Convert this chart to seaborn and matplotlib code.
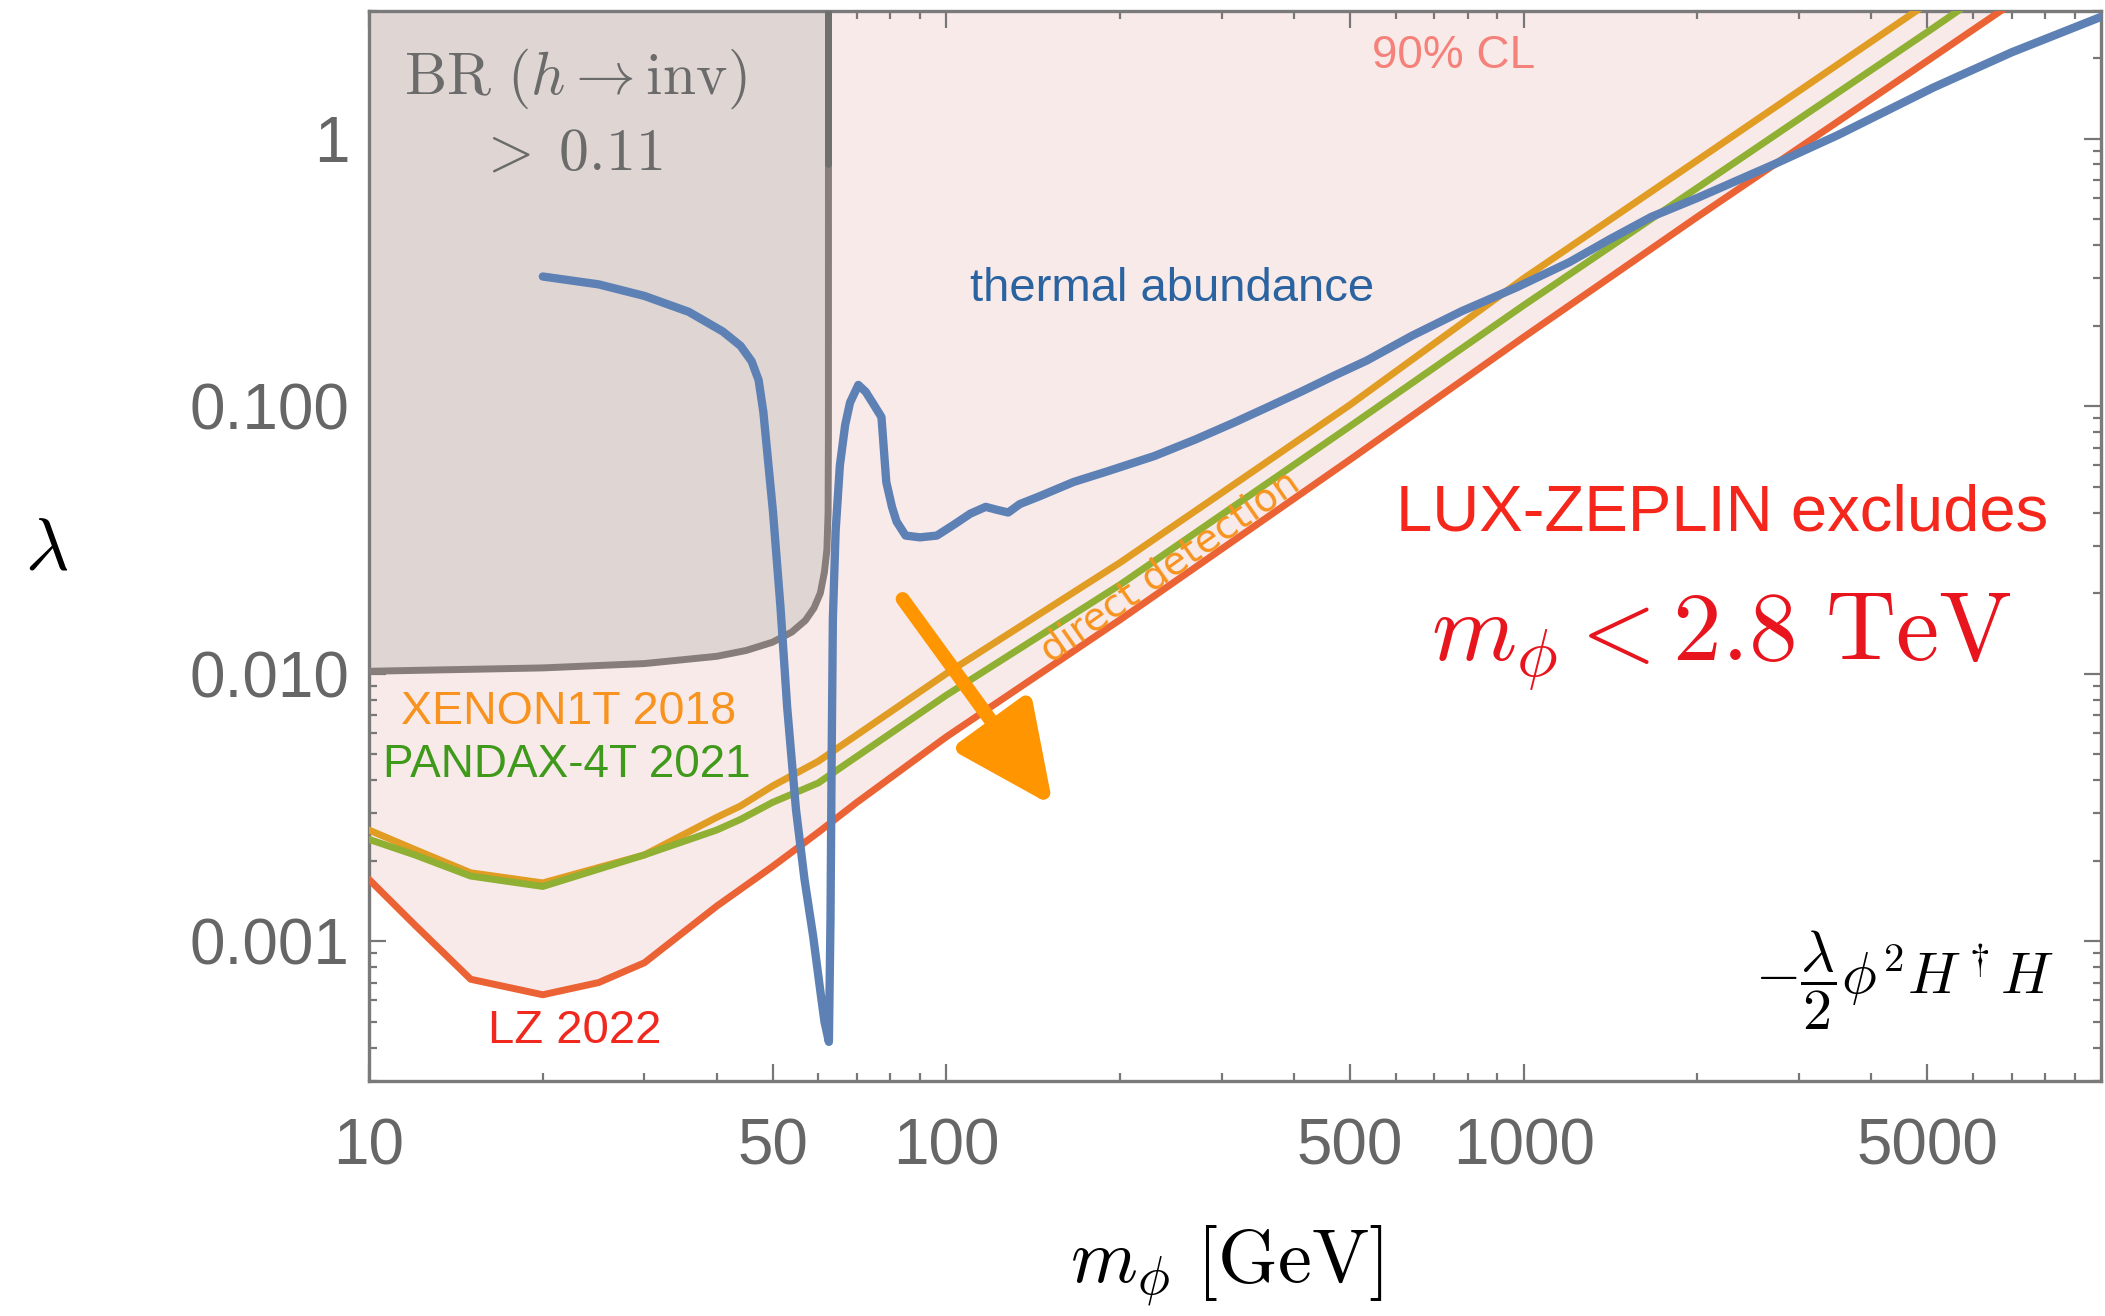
import numpy as np
import pandas as pd
import seaborn as sns
import matplotlib.pyplot as plt
from matplotlib.ticker import FixedLocator, FixedFormatter, LogLocator, NullFormatter

# Higgs portal scalar: coupling lambda vs mass

# LZ 2022 limit
m_lz = [10, 12, 15, 20, 25, 30, 40, 50, 60, 70, 100, 200, 500, 1000, 2000, 5000, 10000]
lam_lz = [0.0017, 0.00115, 0.00072, 0.00063, 0.00070, 0.00083, 0.00135, 0.0019,
          0.00255, 0.0033, 0.0058, 0.0159, 0.063, 0.181, 0.51, 1.95, 5.4]

# XENON1T 2018 limit
m_x1t = [10, 12, 15, 20, 30, 40, 44, 50, 60, 70, 100, 200, 500, 1000, 2000, 5000, 10000]
lam_x1t = [0.0026, 0.0022, 0.0018, 0.00165, 0.0021, 0.0029, 0.0032, 0.0038, 0.0047,
           0.0059, 0.0100, 0.026, 0.101, 0.30, 0.83, 3.2, 9.0]

# PANDAX-4T 2021 limit
m_p4t = [10, 12, 15, 20, 30, 40, 44, 50, 60, 70, 100, 200, 500, 1000, 2000, 5000, 10000]
lam_p4t = [0.0024, 0.0021, 0.00175, 0.0016, 0.0021, 0.0026, 0.00285, 0.0033, 0.0039,
           0.0049, 0.0083, 0.0215, 0.084, 0.238, 0.655, 2.5, 7.0]

# thermal abundance curve
m_th = [20, 25, 30, 35.8, 41, 44, 46, 47.3, 48.2, 49.2, 50.1, 51.6, 53, 54.9, 56.8,
        58.8, 60.5, 61.5, 62.6, 63.0, 63.3, 63.6, 64.3, 65.4, 66.8, 68.1, 70.4,
        72.5, 74.5, 77.2, 78.7, 80.5, 82, 85, 90, 96.3, 103, 110, 117, 122, 128,
        134, 145, 166, 190, 229, 270, 316, 360, 411, 470, 535, 640, 780, 973,
        1200, 1409, 1665, 2000, 2710, 3500, 5120, 7000, 10000]
lam_th = [0.305, 0.285, 0.258, 0.225, 0.19, 0.168, 0.147, 0.125, 0.095, 0.06, 0.04,
          0.0178, 0.0075, 0.0031, 0.0017, 0.00104, 0.00065, 0.0005, 0.00042,
          0.0012, 0.005, 0.016, 0.034, 0.06, 0.085, 0.103, 0.12, 0.113, 0.103,
          0.091, 0.052, 0.042, 0.037, 0.0328, 0.0323, 0.0328, 0.036, 0.0396,
          0.042, 0.041, 0.040, 0.043, 0.046, 0.052, 0.057, 0.065, 0.075, 0.087,
          0.099, 0.113, 0.13, 0.148, 0.183, 0.226, 0.278, 0.345, 0.42, 0.51,
          0.60, 0.80, 1.03, 1.55, 2.1, 2.85]

# BR(h -> inv) > 0.11 boundary
m_br = [10, 20, 30, 40, 45, 50, 54, 57, 59, 60.5, 61.5, 62.1, 62.4, 62.48, 62.5]
lam_br = [0.0102, 0.0105, 0.0109, 0.0116, 0.0122, 0.0131, 0.0143, 0.0158, 0.0176,
          0.020, 0.024, 0.029, 0.040, 0.08, 3.0]
m_edge = [62.5, 62.5]
lam_edge = [0.8, 3.0]

x_ticks = [10, 50, 100, 500, 1000, 5000]
x_ticklabels = ['10', '50', '100', '500', '1000', '5000']
y_ticks = [0.001, 0.01, 0.1, 1]
y_ticklabels = ['0.001', '0.010', '0.100', '1']

sns.set_theme(style="ticks")
plt.rcParams['font.family'] = ['Liberation Sans', 'DejaVu Sans']
plt.rcParams['mathtext.fontset'] = 'cm'

fig = plt.figure(figsize=(21.05, 13.16), dpi=100)
ax = fig.add_axes([0.1753, 0.1786, 0.8228, 0.8131])
ax.set_xscale('log')
ax.set_yscale('log')

blue = '#5E81B5'
orange = '#E19C24'
green = '#8FB032'
red = '#EB6235'

# excluded regions
ax.fill_between(m_lz, lam_lz, 10, color='#f9eaea', lw=0, zorder=0)
ax.fill_between(m_br, lam_br, 10, color='#dfd6d3', lw=0, zorder=1)

curves = [
    (m_br, lam_br, '#877d7b', 5.0),
    (m_x1t, lam_x1t, orange, 5.0),
    (m_p4t, lam_p4t, green, 5.0),
    (m_lz, lam_lz, red, 5.0),
    (m_th, lam_th, blue, 6.0),
]
for mm, ll, col, lw in curves:
    df = pd.DataFrame({'m': mm, 'lam': ll})
    sns.lineplot(data=df, x='m', y='lam', ax=ax, color=col, lw=lw,
                 sort=False, estimator=None, zorder=3)
df_edge = pd.DataFrame({'m': m_edge, 'lam': lam_edge})
sns.lineplot(data=df_edge, x='m', y='lam', ax=ax, color='#6f6f6f', lw=5.0,
             sort=False, estimator=None, zorder=3)

ax.set_xlim(10, 10000)
ax.set_ylim(3e-4, 3)

# ticks, Mathematica style
ax.xaxis.set_major_locator(FixedLocator(x_ticks))
ax.xaxis.set_major_formatter(FixedFormatter(x_ticklabels))
ax.xaxis.set_minor_locator(LogLocator(base=10, subs=[2, 3, 4, 6, 7, 8, 9]))
ax.xaxis.set_minor_formatter(NullFormatter())
ax.yaxis.set_major_locator(FixedLocator(y_ticks))
ax.yaxis.set_major_formatter(FixedFormatter(y_ticklabels))
ax.yaxis.set_minor_locator(LogLocator(base=10, subs=np.arange(2, 10)))
ax.yaxis.set_minor_formatter(NullFormatter())
ax.tick_params(which='both', direction='in', top=True, right=True,
               color='#777777', width=1.6)
ax.tick_params(which='major', length=12, labelsize=46, labelcolor='#666666')
ax.tick_params(which='minor', length=6)
ax.tick_params(axis='x', which='major', pad=26)
ax.tick_params(axis='y', which='major', pad=14)
for sp in ax.spines.values():
    sp.set_color('#7a7a7a')
    sp.set_linewidth(2.4)

ax.set_xlabel(r'$m_\phi\ [\mathrm{GeV}]$', fontsize=55, color='black')
ax.xaxis.set_label_coords(0.495, -0.133)
ax.set_ylabel(r'$\lambda$', fontsize=54, rotation=0, color='black', va='center')
ax.yaxis.set_label_coords(-0.186, 0.496)

tr = ax.transAxes
ax.text(0.119, 0.937, r'$\mathrm{BR}\ (h \to \mathrm{inv})$', transform=tr,
        fontsize=43, color='#6b6b6b', ha='center', va='center')
ax.text(0.116, 0.866, r'$>\;0.11$', transform=tr,
        fontsize=43, color='#6b6b6b', ha='center', va='center')
ax.text(0.626, 0.958, '90% CL', transform=tr, fontsize=33, color='#F4827B',
        ha='center', va='center')
ax.text(0.4636, 0.740, 'thermal abundance', transform=tr, fontsize=34,
        color='#2a63a0', ha='center', va='center')
ax.text(0.115, 0.345, 'XENON1T 2018', transform=tr, fontsize=33.5,
        color='#F7931E', ha='center', va='center')
ax.text(0.114, 0.295, 'PANDAX-4T 2021', transform=tr, fontsize=33,
        color='#3f9a1c', ha='center', va='center')
ax.text(0.119, 0.047, 'LZ 2022', transform=tr, fontsize=34,
        color='#F0281E', ha='center', va='center')
# label sits in the gap between the PANDAX and LZ lines
ax.text(250, 0.0232, 'direct detection', fontsize=28, color='#F7931E',
        family=['DejaVu Sans'], ha='center', va='baseline', rotation=35,
        rotation_mode='anchor', zorder=4)
ax.text(0.781, 0.530, 'LUX-ZEPLIN excludes', transform=tr, fontsize=47,
        color='#F5261B', ha='center', va='center')
ax.text(0.781, 0.41, r'$m_\phi < 2.8\ \mathrm{TeV}$', transform=tr, fontsize=70,
        color='#E8141E', ha='center', va='center')
ax.text(0.973, 0.094, r'$-\dfrac{\lambda}{2}\phi^2 H^\dagger H$', transform=tr,
        fontsize=42, color='black', ha='right', va='center')

# hand-drawn arrow pointing into the allowed region
ax.annotate('', xy=(153, 0.0032), xytext=(84, 0.019),
            arrowprops=dict(arrowstyle='-|>,head_length=1.5,head_width=0.7',
                            color='#FF9500', lw=10, mutation_scale=40,
                            shrinkA=0, shrinkB=0), zorder=5)

fig.savefig('out.png', dpi=100)
